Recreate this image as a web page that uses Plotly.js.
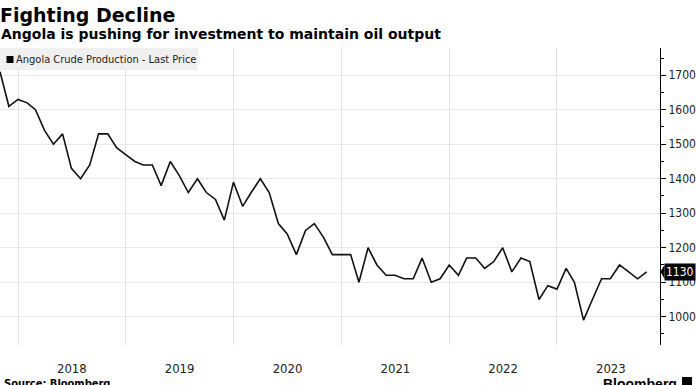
<!DOCTYPE html>
<html>
<head>
<meta charset="utf-8">
<script src="https://cdn.plot.ly/plotly-3.0.1.min.js"></script>
<style>html,body{margin:0;padding:0;background:#fff;}#chart{width:696px;height:385px;}</style>
</head>
<body>
<div id="chart"></div>
<script>
const months = [
  "2017-11","2017-12",
  "2018-01","2018-02","2018-03","2018-04","2018-05","2018-06","2018-07","2018-08","2018-09","2018-10","2018-11","2018-12",
  "2019-01","2019-02","2019-03","2019-04","2019-05","2019-06","2019-07","2019-08","2019-09","2019-10","2019-11","2019-12",
  "2020-01","2020-02","2020-03","2020-04","2020-05","2020-06","2020-07","2020-08","2020-09","2020-10","2020-11","2020-12",
  "2021-01","2021-02","2021-03","2021-04","2021-05","2021-06","2021-07","2021-08","2021-09","2021-10","2021-11","2021-12",
  "2022-01","2022-02","2022-03","2022-04","2022-05","2022-06","2022-07","2022-08","2022-09","2022-10","2022-11","2022-12",
  "2023-01","2023-02","2023-03","2023-04","2023-05","2023-06","2023-07","2023-08","2023-09","2023-10","2023-11"
];
const production = [
  1710,1610,
  1630,1620,1600,1540,1500,1530,1430,1400,1440,1530,1530,1490,
  1470,1450,1440,1440,1380,1450,1410,1360,1400,1360,1340,1280,
  1390,1320,1360,1400,1360,1270,1240,1180,1250,1270,1230,1180,
  1180,1180,1100,1200,1150,1120,1120,1110,1110,1170,1100,1110,
  1150,1120,1170,1170,1140,1160,1200,1130,1170,1160,1050,1090,
  1080,1140,1100,990,1050,1110,1110,1150,1130,1110,1130
];
const seriesName = "Angola Crude Production - Last Price";
const yTicks = [1000,1100,1200,1300,1400,1500,1600,1700];
const lastValue = production[production.length-1];

const FONT = "DejaVu Sans, Verdana, sans-serif";
const CFONT = "DejaVu Sans Condensed, DejaVu Sans, sans-serif";
const plotH = 297; // plot height px
const py = p => (345 - p) / plotH; // pixel -> paper y
const px = p => p / 660;           // pixel -> paper x

const trace = {
  x: months, y: production, type: "scatter", mode: "lines",
  line: {color: "#111111", width: 1.6}, hoverinfo: "skip", showlegend: false
};

const layout = {
  width: 696, height: 385,
  margin: {l: 0, r: 36, t: 48, b: 40, pad: 0},
  paper_bgcolor: "#ffffff", plot_bgcolor: "#ffffff",
  showlegend: false,
  title: {
    text: "<b>Fighting Decline</b>",
    font: {family: FONT, size: 19, color: "#000"},
    x: 0, xref: "paper", xanchor: "left",
    y: 1 - 15/385, yref: "container", yanchor: "middle"
  },
  xaxis: {
    type: "date",
    range: ["2017-11-01", "2023-12-16"],
    tick0: "2018-01-01", dtick: "M12",
    ticklabelmode: "period",
    tickformat: "%Y",
    ticks: "outside", ticklen: 11, tickcolor: "rgba(0,0,0,0)",
    showgrid: true, gridcolor: "#e2e2e2", gridwidth: 1,
    showline: false, zeroline: false,
    tickfont: {family: CFONT, size: 13, color: "#222"},
    fixedrange: true
  },
  yaxis: {
    side: "right",
    range: [918, 1779],
    tickvals: yTicks,
    ticktext: yTicks.map(String),
    ticks: "outside", ticklen: 5, tickcolor: "#000", tickwidth: 1,
    minor: {dtick: 50, tick0: 0, ticks: "outside", ticklen: 3, tickcolor: "#000", showgrid: false},
    showline: true, linecolor: "#000", linewidth: 1,
    showgrid: true, gridcolor: "#e8e8e8", gridwidth: 1,
    zeroline: false,
    tickfont: {family: CFONT, size: 12, color: "#222"},
    fixedrange: true
  },
  shapes: [
    {type: "rect", xref: "paper", yref: "paper", x0: 0, x1: px(198), y0: py(70), y1: py(48),
     fillcolor: "#f0f0f0", line: {width: 0}, layer: "above"},
    {type: "rect", xref: "paper", yref: "paper", x0: px(6.5), x1: px(13.5), y0: py(63), y1: py(56),
     fillcolor: "#000", line: {width: 0}, layer: "above"},
    {type: "path", xref: "paper", yref: "y",
     path: "M 1.0005," + lastValue + " L " + (1 + 4.5/660) + "," + (lastValue + 20) + " L " + (1 + 4.5/660) + "," + (lastValue - 20) + " Z",
     fillcolor: "#000", line: {width: 0}, layer: "above"},
    {type: "rect", xref: "paper", yref: "paper", x0: px(682), x1: px(692), y0: py(388), y1: py(377),
     fillcolor: "#000", line: {width: 0}, layer: "above"}
  ],
  annotations: [
    {text: "<b>Angola is pushing for investment to maintain oil output</b>",
     xref: "paper", yref: "paper", x: 0, y: py(34), xanchor: "left", yanchor: "middle",
     showarrow: false, font: {family: FONT, size: 14, color: "#000"}, xshift: -1},
    {text: seriesName,
     xref: "paper", yref: "paper", x: px(14), y: py(59.5), xanchor: "left", yanchor: "middle",
     showarrow: false, font: {family: CFONT, size: 11, color: "#222"}},
    {text: String(lastValue),
     xref: "paper", yref: "y", x: 1, y: lastValue, xanchor: "left", yanchor: "middle", xshift: 4,
     showarrow: false, bgcolor: "#000", borderpad: 1,
     font: {family: CFONT, size: 12, color: "#fff"}},
    {text: "<b>Source: Bloomberg</b>",
     xref: "paper", yref: "paper", x: px(2), y: py(375), xanchor: "left", yanchor: "top",
     showarrow: false, font: {family: CFONT, size: 11, color: "#000"}},
    {text: "<b>Bloomberg</b>",
     xref: "paper", yref: "paper", x: px(679), y: py(374), xanchor: "right", yanchor: "top",
     showarrow: false, font: {family: "Liberation Sans, Arial, sans-serif", size: 14, color: "#000"}}
  ]
};

Plotly.newPlot("chart", [trace], layout, {displayModeBar: false, staticPlot: true});
</script>
</body>
</html>
